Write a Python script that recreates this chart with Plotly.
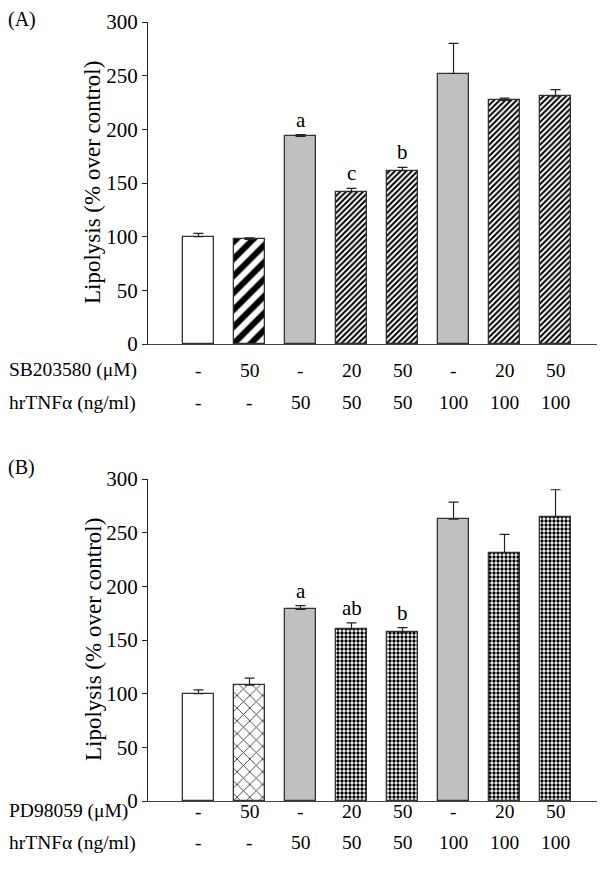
import plotly.graph_objects as go

# ---- data ----
positions = [0, 1, 2, 3, 4, 5, 6, 7]
valsA = [100, 97.5, 193.5, 142, 161.5, 252, 227, 231]
errA = [3, 1.5, 1.5, 3, 3, 28, 2, 6]
valsB = [100, 108, 178.5, 160, 157, 262.5, 231.5, 265]
errB = [3.5, 6.5, 3.5, 6, 4.5, 16, 17, 25]
inhibA_label = "SB203580 (\u03bcM)"
inhibB_label = "PD98059 (\u03bcM)"
tnf_label = "hrTNF\u03b1 (ng/ml)"
inhib_row = ["-", "50", "-", "20", "50", "-", "20", "50"]
tnf_row = ["-", "-", "50", "50", "50", "100", "100", "100"]
lettersA = {2: "a", 3: "c", 4: "b"}
lettersB = {2: "a", 3: "ab", 4: "b"}
yticks = [0, 50, 100, 150, 200, 250, 300]
ytitle = "Lipolysis (% over control)"

FONT = "Liberation Serif"
OFF = 8  # default body margin of the page
W, H = 605 - OFF, 875 - OFF
L, T = 148 - OFF, 22 - OFF
PLOT_BOTTOM = 801 - OFF
B = H - PLOT_BOTTOM
plot_h = H - T - B
plot_w = W - L


def py2paper(py):
    return (PLOT_BOTTOM - (py - OFF)) / plot_h


def px2paper(px):
    return (px - OFF - L) / plot_w


OUT = dict(color="#333", width=1.3)
white = dict(color="white", line=OUT)
gray = dict(color="#c0c0c0", line=OUT)
boldstripe = dict(color="white", line=OUT,
                  pattern=dict(shape="/", size=12, solidity=0.5, fgcolor="black", bgcolor="white", fgopacity=1))
finestripe = dict(color="white", line=OUT,
                  pattern=dict(shape="/", size=4, solidity=0.5, fgcolor="black", bgcolor="white", fgopacity=1))
crosshatch = dict(color="white", line=OUT,
                  pattern=dict(shape="x", size=9, solidity=0.2, fgcolor="#444", bgcolor="white", fgopacity=1))
checker = dict(color="white", line=OUT,
               pattern=dict(shape=".", size=4, solidity=0.55, fgcolor="black", bgcolor="white", fgopacity=1))

stylesA = [white, boldstripe, gray, finestripe, finestripe, gray, finestripe, finestripe]
stylesB = [white, crosshatch, gray, checker, checker, gray, checker, checker]

fig = go.Figure()


def add_panel(vals, errs, styles, xa, ya):
    for i in positions:
        fig.add_trace(go.Bar(
            x=[i], y=[vals[i]], width=0.61, marker=styles[i],
            error_y=dict(type="data", array=[errs[i]], arrayminus=[0], symmetric=False,
                         color="#222", thickness=1.2, width=5),
            xaxis=xa, yaxis=ya, showlegend=False, hoverinfo="skip"))


add_panel(valsA, errA, stylesA, "x", "y")
add_panel(valsB, errB, stylesB, "x2", "y2")

topA = py2paper(344)
topB = py2paper(479)

axis_x = dict(range=[-0.99, 7.97], showline=True, linecolor="#444", linewidth=1.3,
              showticklabels=False, ticks="", showgrid=False, zeroline=False)
axis_y = dict(range=[0, 300], tickvals=yticks, ticks="outside", ticklen=5, tickcolor="#222",
              showline=True, linecolor="#222", linewidth=1.3, showgrid=False, zeroline=False,
              tickfont=dict(family=FONT, size=21, color="black"))

fig.update_layout(
    width=W, height=H, margin=dict(l=L, r=0, t=T, b=B),
    paper_bgcolor="white", plot_bgcolor="white", bargap=0,
    font=dict(family=FONT, size=19.5, color="black"),
    xaxis=dict(axis_x, domain=[0, 1], anchor="y"),
    yaxis=dict(axis_y, domain=[topA, 1], anchor="x"),
    xaxis2=dict(axis_x, domain=[0, 1], anchor="y2"),
    yaxis2=dict(axis_y, domain=[0, topB], anchor="x2"),
)

ann = []
# panel letters
ann.append(dict(text="(A)", x=px2paper(6), y=py2paper(19), xref="paper", yref="paper",
                xanchor="left", yanchor="middle", showarrow=False, font=dict(size=20)))
ann.append(dict(text="(B)", x=px2paper(6), y=py2paper(467), xref="paper", yref="paper",
                xanchor="left", yanchor="middle", showarrow=False, font=dict(size=20)))
# y titles
ann.append(dict(text=ytitle, textangle=-90, x=px2paper(93), y=(topA + 1) / 2, xref="paper",
                yref="paper", xanchor="center", yanchor="middle", showarrow=False, font=dict(size=23)))
ann.append(dict(text=ytitle, textangle=-90, x=px2paper(93), y=topB / 2, xref="paper",
                yref="paper", xanchor="center", yanchor="middle", showarrow=False, font=dict(size=23)))

# condition rows
rows = [
    (inhibA_label, inhib_row, 370, "x"),
    (tnf_label, tnf_row, 403, "x"),
    (inhibB_label, inhib_row, 811, "x2"),
    (tnf_label, tnf_row, 843, "x2"),
]
for label, vals, py, xr in rows:
    ann.append(dict(text=label, x=px2paper(7), y=py2paper(py), xref="paper", yref="paper",
                    xanchor="left", yanchor="middle", showarrow=False))
    for i, v in zip(positions, vals):
        ann.append(dict(text=v, x=i, y=py2paper(py), xref=xr, yref="paper",
                        xanchor="center", yanchor="middle", showarrow=False))

# significance letters
for letters, vals, errs, xr, yr in [(lettersA, valsA, errA, "x", "y"), (lettersB, valsB, errB, "x2", "y2")]:
    for i, t in letters.items():
        ann.append(dict(text=t, x=i, y=vals[i] + errs[i], xref=xr, yref=yr,
                        xanchor="center", yanchor="bottom", yshift=1, showarrow=False,
                        font=dict(size=21)))

fig.update_layout(annotations=ann)
fig.write_html("out.html")
